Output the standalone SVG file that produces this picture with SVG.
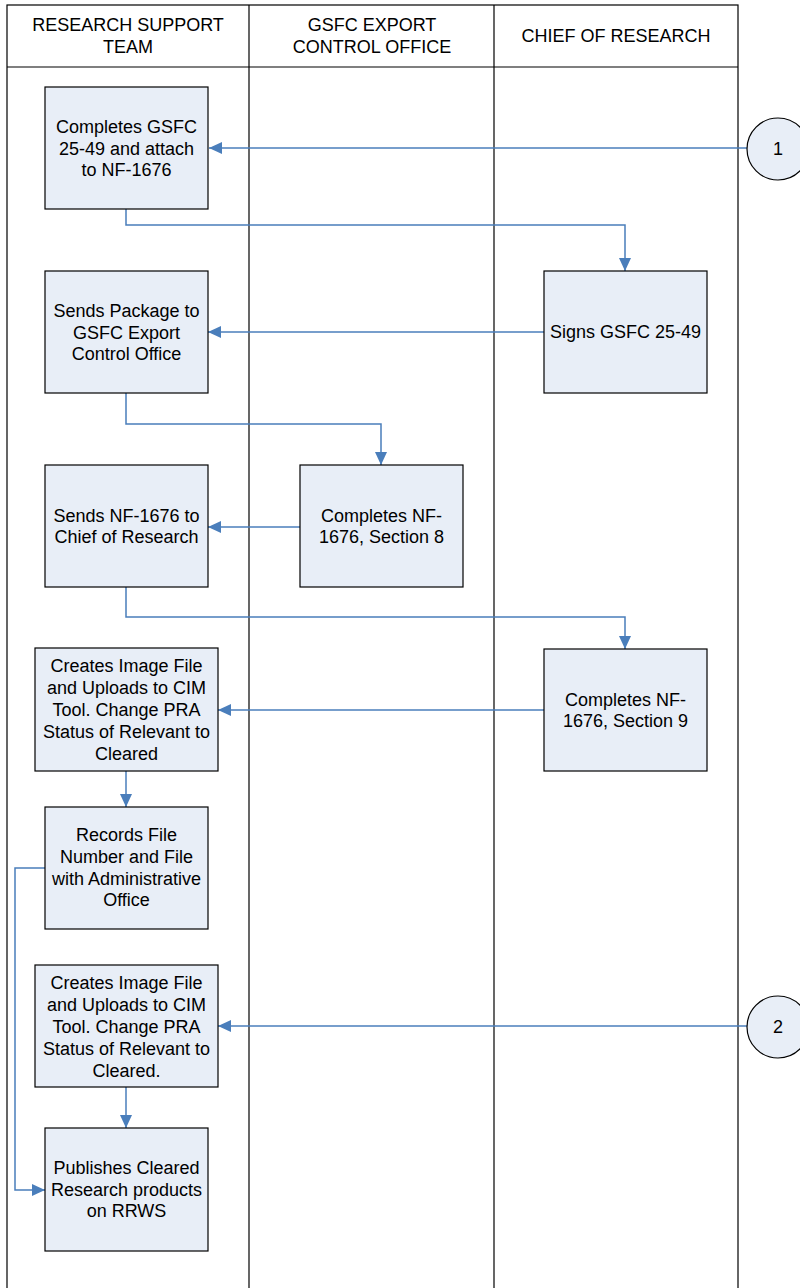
<svg xmlns="http://www.w3.org/2000/svg" width="800" height="1288" viewBox="0 0 800 1288">
<style>
.lane{fill:none;stroke:#000;stroke-width:1.2}
.box{fill:#E8EEF7;stroke:#000;stroke-width:1.2}
.t{font-family:"Liberation Sans",Arial,sans-serif;font-size:18px;fill:#000;text-anchor:middle}
.c{fill:none;stroke:#4A7EBB;stroke-width:1.5}
</style>
<defs>
<marker id="ah" markerUnits="userSpaceOnUse" markerWidth="14" markerHeight="14" viewBox="0 0 14 14" refX="13" refY="7" orient="auto">
<path d="M0,1 L13,7 L0,13 Z" fill="#4A7EBB"/>
</marker>
</defs>
<rect width="800" height="1288" fill="#fff"/>
<g id="lanes">
<rect class="lane" x="7" y="5" width="731" height="1290"/>
<line class="lane" x1="7" y1="67" x2="738" y2="67"/>
<line class="lane" x1="249" y1="5" x2="249" y2="1290"/>
<line class="lane" x1="494" y1="5" x2="494" y2="1290"/>
<text class="t" x="128" y="31">RESEARCH SUPPORT</text>
<text class="t" x="128" y="53">TEAM</text>
<text class="t" x="372" y="31">GSFC EXPORT</text>
<text class="t" x="372" y="53">CONTROL OFFICE</text>
<text class="t" x="616" y="42">CHIEF OF RESEARCH</text>
</g>
<g id="connectors">
<path class="c" marker-end="url(#ah)" d="M747,148 L209,148"/>
<path class="c" marker-end="url(#ah)" d="M126,209 L126,225 L625,225 L625,271"/>
<path class="c" marker-end="url(#ah)" d="M544,332 L208,332"/>
<path class="c" marker-end="url(#ah)" d="M126,393 L126,424 L381,424 L381,465"/>
<path class="c" marker-end="url(#ah)" d="M300,527 L208,527"/>
<path class="c" marker-end="url(#ah)" d="M126,587 L126,617 L625,617 L625,649"/>
<path class="c" marker-end="url(#ah)" d="M544,710 L218,710"/>
<path class="c" marker-end="url(#ah)" d="M126,771 L126,807"/>
<path class="c" marker-end="url(#ah)" d="M45,868 L15,868 L15,1190 L45,1190"/>
<path class="c" marker-end="url(#ah)" d="M747,1026 L218,1026"/>
<path class="c" marker-end="url(#ah)" d="M126,1087 L126,1128"/>
</g>
<g id="c1">
<circle cx="778" cy="149" r="31" fill="#E8EEF7" stroke="#000" stroke-width="1.2"/>
<text class="t" x="778" y="155">1</text>
</g>
<g id="c2">
<circle cx="778" cy="1027" r="31" fill="#E8EEF7" stroke="#000" stroke-width="1.2"/>
<text class="t" x="778" y="1033">2</text>
</g>
<g id="n1">
<rect class="box" x="45" y="87" width="163" height="122"/>
<text class="t" x="126.5" y="133">Completes GSFC</text>
<text class="t" x="126.5" y="155">25-49 and attach</text>
<text class="t" x="126.5" y="176">to NF-1676</text>
</g>
<g id="n2">
<rect class="box" x="544" y="271" width="163" height="122"/>
<text class="t" x="625.5" y="338">Signs GSFC 25-49</text>
</g>
<g id="n3">
<rect class="box" x="45" y="271" width="163" height="122"/>
<text class="t" x="126.5" y="317">Sends Package to</text>
<text class="t" x="126.5" y="339">GSFC Export</text>
<text class="t" x="126.5" y="360">Control Office</text>
</g>
<g id="n4">
<rect class="box" x="300" y="465" width="163" height="122"/>
<text class="t" x="381.5" y="522">Completes NF-</text>
<text class="t" x="381.5" y="543">1676, Section 8</text>
</g>
<g id="n5">
<rect class="box" x="45" y="465" width="163" height="122"/>
<text class="t" x="126.5" y="522">Sends NF-1676 to</text>
<text class="t" x="126.5" y="543">Chief of Research</text>
</g>
<g id="n6">
<rect class="box" x="544" y="649" width="163" height="122"/>
<text class="t" x="625.5" y="706">Completes NF-</text>
<text class="t" x="625.5" y="727">1676, Section 9</text>
</g>
<g id="n7">
<rect class="box" x="35" y="648" width="183" height="123"/>
<text class="t" x="126.5" y="672">Creates Image File</text>
<text class="t" x="126.5" y="694">and Uploads to CIM</text>
<text class="t" x="126.5" y="716">Tool. Change PRA</text>
<text class="t" x="126.5" y="738">Status of Relevant to</text>
<text class="t" x="126.5" y="760">Cleared</text>
</g>
<g id="n8">
<rect class="box" x="45" y="807" width="163" height="122"/>
<text class="t" x="126.5" y="841">Records File</text>
<text class="t" x="126.5" y="863">Number and File</text>
<text class="t" x="126.5" y="885">with Administrative</text>
<text class="t" x="126.5" y="906">Office</text>
</g>
<g id="n9">
<rect class="box" x="35" y="965" width="183" height="122"/>
<text class="t" x="126.5" y="989">Creates Image File</text>
<text class="t" x="126.5" y="1011">and Uploads to CIM</text>
<text class="t" x="126.5" y="1033">Tool. Change PRA</text>
<text class="t" x="126.5" y="1055">Status of Relevant to</text>
<text class="t" x="126.5" y="1077">Cleared.</text>
</g>
<g id="n10">
<rect class="box" x="45" y="1128" width="163" height="123"/>
<text class="t" x="126.5" y="1174">Publishes Cleared</text>
<text class="t" x="126.5" y="1196">Research products</text>
<text class="t" x="126.5" y="1217">on RRWS</text>
</g>
</svg>
